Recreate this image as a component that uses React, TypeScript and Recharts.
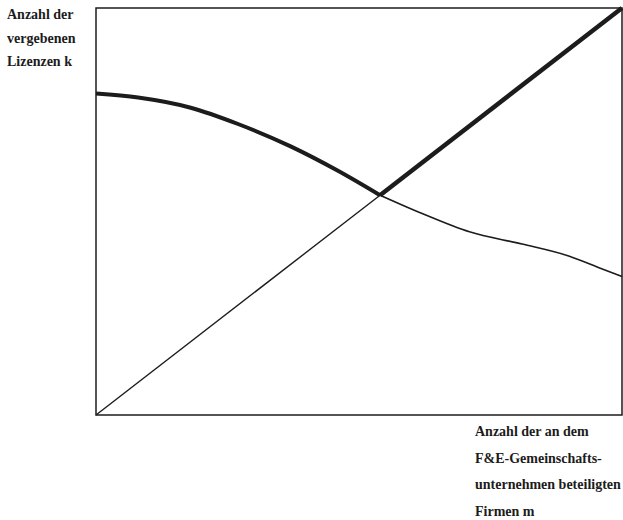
import React from 'react';
import { LineChart, Line, XAxis, YAxis, ReferenceArea } from 'recharts';

// Kurve: Anzahl der vergebenen Lizenzen (links dick, rechts dünn)
const curveXThick = [0, 8, 18, 27, 37, 46, 54];
const curveYThick = [79, 78, 75.5, 71.5, 66, 60, 54];
const curveXThin = [54, 62, 71, 81, 90, 96, 100];
const curveYThin = [54, 49.5, 45, 42, 39, 36, 34];

// Diagonale (unten dünn, oben dick)
const diagXThin = [0, 54];
const diagYThin = [0, 54];
const diagXThick = [54, 100];
const diagYThick = [54, 100];

const yLabel = ['Anzahl der', 'vergebenen', 'Lizenzen k'];
const xLabel = ['Anzahl der an dem', 'F&E-Gemeinschafts-', 'unternehmen beteiligten', 'Firmen m'];

const toPoints = (xs: number[], ys: number[]) => xs.map((x, i) => ({ x, y: ys[i] }));

const INK = '#1c1c1c';

const App: React.FC = () => {
  const textStyle: React.CSSProperties = {
    position: 'absolute',
    fontFamily: '"Liberation Serif", "DejaVu Serif", serif',
    fontSize: 14,
    fontWeight: 'bold',
    color: INK,
    whiteSpace: 'nowrap',
    lineHeight: '14px',
  };

  return (
    <div style={{ position: 'absolute', left: 0, top: 0, width: 623, height: 520, background: '#fff' }}>
      <LineChart width={623} height={520} margin={{ top: 8, right: 1, bottom: 105, left: 96 }}>
        <XAxis xAxisId="b" type="number" dataKey="x" domain={[0, 100]} hide />
        <YAxis yAxisId="l" type="number" domain={[0, 100]} hide />
        {/* Rahmen */}
        <ReferenceArea xAxisId="b" yAxisId="l" x1={0} x2={100} y1={0} y2={100} fill="none" fillOpacity={0} stroke={INK} strokeWidth={1.5} strokeOpacity={1} ifOverflow="visible" />
        <Line xAxisId="b" yAxisId="l" data={toPoints(curveXThick, curveYThick)} dataKey="y" type="monotone" stroke={INK} strokeWidth={4} dot={false} isAnimationActive={false} />
        <Line xAxisId="b" yAxisId="l" data={toPoints(curveXThin, curveYThin)} dataKey="y" type="monotone" stroke={INK} strokeWidth={1.6} dot={false} isAnimationActive={false} />
        <Line xAxisId="b" yAxisId="l" data={toPoints(diagXThin, diagYThin)} dataKey="y" type="linear" stroke={INK} strokeWidth={1.4} dot={false} isAnimationActive={false} />
        <Line xAxisId="b" yAxisId="l" data={toPoints(diagXThick, diagYThick)} dataKey="y" type="linear" stroke={INK} strokeWidth={4.5} dot={false} isAnimationActive={false} />
      </LineChart>
      {yLabel.map((t, i) => (
        <div key={t} style={{ ...textStyle, left: 7, top: 8 + i * 23.5 }}>{t}</div>
      ))}
      {xLabel.map((t, i) => (
        <div key={t} style={{ ...textStyle, left: 475, top: 425 + i * 26.5 }}>{t}</div>
      ))}
    </div>
  );
};

export default App;
